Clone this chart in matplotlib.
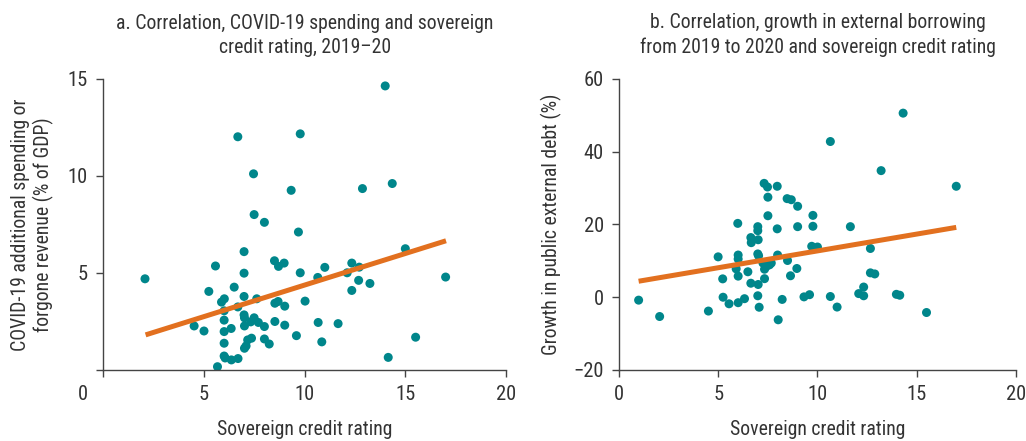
import matplotlib
matplotlib.use("Agg")
import matplotlib.pyplot as plt
import matplotlib.transforms as mtransforms
from matplotlib import font_manager

# use a narrow face if one is around
installed = {f.name for f in font_manager.fontManager.ttflist}
narrow = [n for n in ['Roboto Condensed', 'Liberation Sans Narrow', 'Open Sans Condensed',
                      'Noto Sans Condensed', 'DejaVu Sans Condensed'] if n in installed]
plt.rcParams['font.family'] = narrow[:1] + ['Liberation Sans', 'DejaVu Sans']
plt.rcParams['font.stretch'] = 'condensed'

# panel a: credit rating vs COVID-19 spending (% of GDP)
rating_a = [2.07, 14.0, 6.68, 9.78, 7.46, 9.33, 12.87, 14.35, 7.49, 8.0,
            9.69, 6.99, 15.0, 5.57, 8.5, 8.7, 8.98, 6.99, 9.78, 11.0,
            12.34, 12.71, 12.11, 10.65, 12.68, 13.24, 12.34, 17.0, 5.24, 6.5,
            6.01, 5.87, 6.99, 7.62, 6.68, 6.0, 8.52, 8.68, 9.01, 10.02,
            6.99, 7.01, 6.0, 7.49, 7.32, 7.7, 7.01, 8.0, 8.52, 9.01,
            10.67, 11.66, 4.51, 5.0, 6.35, 6.0, 9.59, 7.36, 7.17, 8.0,
            8.24, 6.0, 10.85, 15.51, 7.09, 7.01, 6.0, 6.05, 6.36, 6.69,
            14.15, 5.67]
spending = [4.70, 14.64, 12.02, 12.17, 10.11, 9.26, 9.35, 9.61, 8.01, 7.61,
            7.11, 6.10, 6.25, 5.36, 5.63, 5.34, 5.51, 4.99, 5.01, 5.29,
            5.51, 5.30, 5.01, 4.77, 4.62, 4.46, 4.10, 4.79, 4.05, 4.27,
            3.67, 3.50, 3.79, 3.67, 3.25, 3.05, 3.44, 3.53, 3.29, 3.55,
            2.84, 2.69, 2.57, 2.69, 2.48, 2.45, 2.27, 2.24, 2.50, 2.31,
            2.45, 2.39, 2.27, 2.01, 2.14, 1.98, 1.77, 1.64, 1.55, 1.60,
            1.34, 1.38, 1.45, 1.69, 1.24, 1.12, 0.72, 0.62, 0.52, 0.59,
            0.65, 0.17]
trend_a_x = [2.1, 17.02]
trend_a_y = [1.81, 6.66]

# panel b: credit rating vs growth in public external debt (%)
rating_b = [0.98, 2.04, 4.5, 4.99, 5.22, 5.24, 5.54, 6.0, 6.32, 5.98,
            6.0, 6.0, 5.9, 6.0, 6.49, 6.64, 6.66, 7.01, 6.64, 7.01,
            6.99, 7.06, 6.99, 6.99, 6.99, 7.03, 7.31, 7.48, 7.97, 7.5,
            7.5, 7.97, 7.25, 7.41, 7.58, 7.67, 7.33, 7.33, 7.99, 8.49,
            8.64, 8.96, 8.02, 8.22, 8.47, 8.68, 9.0, 9.0, 9.77, 9.77,
            9.71, 10.0, 9.32, 9.6, 10.65, 10.65, 10.99, 11.66, 12.67, 12.67,
            12.89, 12.33, 12.08, 12.33, 13.21, 14.32, 13.98, 14.15, 15.5, 17.0]
debt_growth = [-0.8, -5.3, -3.8, 11.1, 5.05, 0.0, -1.8, -1.5, -0.4, 20.3,
               11.6, 10.5, 7.8, 5.8, 7.0, 16.4, 15.0, 15.8, 3.85, 3.5,
               0.4, -2.75, 19.4, 18.3, 11.9, 11.4, 31.3, 30.3, 30.5, 27.5,
               22.4, 18.8, 9.4, 8.4, 8.9, 9.4, 7.7, 5.1, 11.6, 10.1,
               5.9, 7.9, -6.2, -0.6, 27.1, 26.8, 25.0, 19.4, 22.5, 19.5,
               14.0, 13.8, 0.1, 0.7, 42.8, 0.2, -2.7, 19.4, 13.4, 6.7,
               6.4, 2.8, 1.0, 0.4, 34.8, 50.6, 0.8, 0.55, -4.2, 30.5]
trend_b_x = [0.98, 17.0]
trend_b_y = [4.4, 19.2]

x_ticks = [0, 5, 10, 15, 20]

teal = '#00868B'
orange = '#E2701F'
text_col = '#333333'
spine_col = '#444444'
fs = 14.2

fig = plt.figure(figsize=(10.26, 4.41), dpi=100)
ax1 = fig.add_axes([0.1007, 0.161, 0.3925, 0.660])
ax2 = fig.add_axes([0.6035, 0.161, 0.3865, 0.660])


def style_axis(ax):
    for side in ['top', 'right']:
        ax.spines[side].set_visible(False)
    for side in ['left', 'bottom']:
        ax.spines[side].set_color(spine_col)
        ax.spines[side].set_linewidth(1.0)
    ax.tick_params(direction='out', length=5, width=1, color=spine_col,
                   labelcolor=text_col, labelsize=fs + 0.6, pad=6)
    ax.set_xlim(0, 20)
    ax.set_xticks(x_ticks)
    ax.set_xlabel('Sovereign credit rating', fontsize=fs, color=text_col, labelpad=11)


# left panel
ax1.scatter(rating_a, spending, s=42, color=teal, edgecolors='none', zorder=2)
ax1.plot(trend_a_x, trend_a_y, color=orange, linewidth=3.6, solid_capstyle='butt', zorder=3)
style_axis(ax1)
ax1.set_ylim(0, 15)
ax1.set_yticks([0, 5, 10, 15])
ax1.set_yticklabels(['', '5', '10', '15'])
ax1.set_ylabel('COVID-19 additional spending or\nforgone revenue (% of GDP)',
               fontsize=fs, color=text_col, labelpad=10, linespacing=1.2)
ax1.set_title('a. Correlation, COVID-19 spending and sovereign\ncredit rating, 2019\u201320',
              fontsize=fs, color=text_col, pad=19, linespacing=1.3)
# pull the zero label clear of the y axis
zero_lbl = ax1.get_xticklabels()[0]
zero_lbl.set_transform(zero_lbl.get_transform() +
                       mtransforms.ScaledTranslation(-0.20, 0, fig.dpi_scale_trans))

# right panel
ax2.scatter(rating_b, debt_growth, s=42, color=teal, edgecolors='none', zorder=2)
ax2.plot(trend_b_x, trend_b_y, color=orange, linewidth=3.6, solid_capstyle='butt', zorder=3)
style_axis(ax2)
ax2.set_ylim(-20, 60)
ax2.set_yticks([-20, 0, 20, 40, 60])
ax2.set_ylabel('Growth in public external debt (%)', fontsize=fs, color=text_col, labelpad=8)
ax2.set_title('b. Correlation, growth in external borrowing\nfrom 2019 to 2020 and sovereign credit rating',
              fontsize=fs, color=text_col, pad=19, linespacing=1.3)

fig.savefig('out.png', dpi=100)
